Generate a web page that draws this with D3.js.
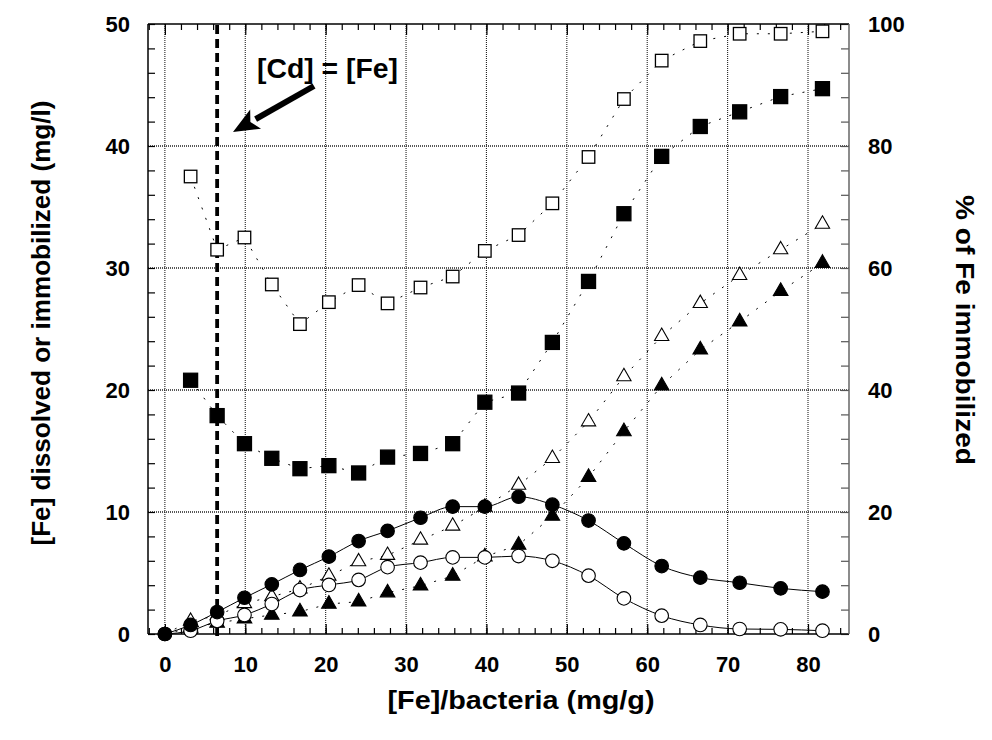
<!DOCTYPE html>
<html><head><meta charset="utf-8">
<script src="https://cdn.jsdelivr.net/npm/d3@7"></script>
<style>body{margin:0;background:#fff}text{font-family:"Liberation Sans",Arial,sans-serif;font-weight:bold}</style>
</head><body><svg id="c" width="992" height="740"></svg>
<script>
// ---- data ----
const xVals = [0, 3.2, 6.5, 9.9, 13.3, 16.8, 20.4, 24.1, 27.7, 31.8, 35.8, 39.8, 44.0, 48.2, 52.7, 57.1, 61.8, 66.6, 71.5, 76.6, 81.8];
// mg/l (left axis)
const filledCircles = [0, 0.74, 1.8, 2.97, 4.07, 5.25, 6.34, 7.62, 8.45, 9.53, 10.44, 10.44, 11.25, 10.6, 9.3, 7.43, 5.57, 4.62, 4.2, 3.74, 3.47];
const openCircles   = [0, 0.27, 1.07, 1.56, 2.46, 3.6, 4.02, 4.43, 5.48, 5.85, 6.28, 6.28, 6.39, 6.0, 4.78, 2.92, 1.5, 0.74, 0.41, 0.38, 0.27];
const openTriangles = [0, 1.05, 1.5, 2.5, 3.06, 3.7, 4.75, 5.93, 6.45, 7.7, 8.85, 10.4, 12.2, 14.4, 17.4, 21.1, 24.4, 27.1, 29.4, 31.5, 33.6];
const filledTriangles = [0, 0.5, 0.9, 1.25, 1.56, 1.83, 2.46, 2.65, 3.39, 3.96, 4.75, 6.34, 7.3, 9.67, 12.85, 16.6, 20.35, 23.3, 25.6, 28.1, 30.4];
// % of Fe immobilized (right axis), starting at xVals[1]
const openSquares   = [75.0, 63.0, 65.0, 57.3, 50.8, 54.4, 57.2, 54.2, 56.8, 58.6, 62.8, 65.4, 70.6, 78.2, 87.7, 94.0, 97.2, 98.4, 98.4, 98.8];
const filledSquares = [41.6, 35.8, 31.2, 28.8, 27.1, 27.6, 26.4, 29.0, 29.6, 31.2, 38.0, 39.5, 47.8, 57.8, 68.9, 78.3, 83.2, 85.6, 88.1, 89.4];
const xTicks = [0, 10, 20, 30, 40, 50, 60, 70, 80];
const yTicks = [0, 10, 20, 30, 40, 50];
const y2Ticks = [0, 20, 40, 60, 80, 100];
const cdEqualsFe = 6.5;
const annotation = "[Cd] = [Fe]";

// ---- layout ----
const svg = d3.select("#c");
const L = 148, R = 849, T = 24, B = 634;
const x = d3.scaleLinear().domain([-2.1, 85.1]).range([L, R]);
const y = d3.scaleLinear().domain([0, 50]).range([B, T]);
const y2 = d3.scaleLinear().domain([0, 100]).range([B, T]);

// grid
const g = svg.append("g");
xTicks.forEach(v => g.append("line").attr("x1", x(v)).attr("x2", x(v)).attr("y1", T).attr("y2", B)
  .attr("stroke", "#222").attr("stroke-width", 1.1).attr("stroke-dasharray", "1,1"));
yTicks.filter(v => v > 0 && v < 50).forEach(v => g.append("line").attr("x1", L).attr("x2", R).attr("y1", y(v)).attr("y2", y(v))
  .attr("stroke", "#222").attr("stroke-width", 1.6).attr("stroke-dasharray", "1,1"));

// axes (ticks inward)
const minorX = d3.range(-2, 85, 2);
const axB = svg.append("g").attr("transform", `translate(0,${B})`)
  .call(d3.axisBottom(x).tickValues(minorX).tickSize(-6).tickFormat(""));
const axBM = svg.append("g").attr("transform", `translate(0,${B})`)
  .call(d3.axisBottom(x).tickValues(xTicks).tickSize(-10).tickPadding(22).tickFormat(d3.format("d")));
const axT = svg.append("g").attr("transform", `translate(0,${T})`)
  .call(d3.axisTop(x).tickValues(minorX).tickSize(-6).tickFormat(""));
const axTM = svg.append("g").attr("transform", `translate(0,${T})`)
  .call(d3.axisTop(x).tickValues(xTicks).tickSize(-11).tickFormat(""));
const axL = svg.append("g").attr("transform", `translate(${L},0)`)
  .call(d3.axisLeft(y).tickValues(d3.range(0, 51, 2)).tickSize(-7).tickFormat(""));
const axLM = svg.append("g").attr("transform", `translate(${L},0)`)
  .call(d3.axisLeft(y).tickValues(yTicks).tickSize(0).tickPadding(18).tickFormat(d3.format("d")));
const axR = svg.append("g").attr("transform", `translate(${R},0)`)
  .call(d3.axisRight(y2).tickValues(d3.range(0, 101, 4)).tickSize(-8).tickFormat(""));
const axRM = svg.append("g").attr("transform", `translate(${R},0)`)
  .call(d3.axisRight(y2).tickValues(y2Ticks).tickSize(0).tickPadding(19).tickFormat(d3.format("d")));
[axB, axBM, axT, axTM, axL, axLM, axR, axRM].forEach(a => {
  a.selectAll(".domain").remove();
  a.selectAll("line").attr("stroke", "#000").attr("stroke-width", 1.2);
  a.selectAll("text").style("font-size", "22px").style("font-family", "Liberation Sans, Arial").style("font-weight", "bold").attr("fill", "#000");
});
axR.selectAll("line").attr("stroke", "#555");
// frame
svg.append("line").attr("x1", L).attr("x2", R).attr("y1", T).attr("y2", T).attr("stroke", "#000").attr("stroke-width", 1.5);
svg.append("line").attr("x1", L).attr("x2", R).attr("y1", B).attr("y2", B).attr("stroke", "#000").attr("stroke-width", 1.5);
svg.append("line").attr("x1", L).attr("x2", L).attr("y1", T).attr("y2", B).attr("stroke", "#000").attr("stroke-width", 1.5);
svg.append("line").attr("x1", R).attr("x2", R).attr("y1", T).attr("y2", B).attr("stroke", "#666").attr("stroke-width", 1.5);

// Cd = Fe dashed line
svg.append("line").attr("x1", x(cdEqualsFe)).attr("x2", x(cdEqualsFe)).attr("y1", T + 1).attr("y2", B + 6)
  .attr("stroke", "#000").attr("stroke-width", 3.8).attr("stroke-dasharray", "9,5");

// series helpers
function series(xs, ys, yScale, dotted, curve) {
  const pts = xs.map((v, i) => [x(v), yScale(ys[i])]);
  const line = d3.line().curve(curve || d3.curveLinear);
  svg.append("path").attr("d", line(pts)).attr("fill", "none").attr("stroke", "#000")
    .attr("stroke-width", 1).attr("stroke-dasharray", dotted ? "2,9" : null);
  return pts;
}
function squares(pts, filled) {
  const s = filled ? 14 : 12.5;
  svg.append("g").selectAll("rect").data(pts).join("rect")
    .attr("x", d => d[0] - s / 2).attr("y", d => d[1] - s / 2).attr("width", s).attr("height", s)
    .attr("fill", filled ? "#000" : "#fff").attr("stroke", "#000").attr("stroke-width", 1.3);
}
function circles(pts, filled) {
  svg.append("g").selectAll("circle").data(pts).join("circle")
    .attr("cx", d => d[0]).attr("cy", d => d[1]).attr("r", 6.8)
    .attr("fill", filled ? "#000" : "#fff").attr("stroke", "#000").attr("stroke-width", 1.1);
}
function triangles(pts, filled) {
  const sym = d3.symbol().type(d3.symbolTriangle).size(filled ? 92 : 88);
  svg.append("g").selectAll("path").data(pts).join("path")
    .attr("transform", d => `translate(${d[0]},${d[1]})`).attr("d", sym())
    .attr("fill", filled ? "#000" : "#fff").attr("stroke", "#000").attr("stroke-width", 1.1);
}

const xs1 = xVals.slice(1);
const pOS = series(xs1, openSquares, y2, true);
const pFS = series(xs1, filledSquares, y2, true);
const pOT = series(xVals, openTriangles, y, true);
const pFT = series(xVals, filledTriangles, y, true);
const pOC = series(xVals, openCircles, y, false, d3.curveMonotoneX);
const pFC = series(xVals, filledCircles, y, false, d3.curveMonotoneX);
squares(pOS, false);
squares(pFS, true);
triangles(pOT.slice(1), false);
triangles(pFT.slice(1), true);
circles(pOC, false);
circles(pFC, true);

// annotation
svg.append("text").attr("x", 257).attr("y", 78).style("font-size", "27px")
  .attr("textLength", 141).attr("lengthAdjust", "spacingAndGlyphs").text(annotation);
const tail = [314, 86], tip = [233, 132];
const ang = Math.atan2(tip[1] - tail[1], tip[0] - tail[0]);
const hl = 26, hw = 11;
const base = [tip[0] - hl * Math.cos(ang), tip[1] - hl * Math.sin(ang)];
svg.append("line").attr("x1", tail[0]).attr("y1", tail[1]).attr("x2", base[0]).attr("y2", base[1])
  .attr("stroke", "#000").attr("stroke-width", 6);
svg.append("path").attr("d", d3.line()([
  tip,
  [base[0] + hw * Math.sin(ang), base[1] - hw * Math.cos(ang)],
  [base[0] + 6 * Math.cos(ang), base[1] + 6 * Math.sin(ang)],
  [base[0] - hw * Math.sin(ang), base[1] + hw * Math.cos(ang)]
]) + "Z").attr("fill", "#000");

// axis titles
svg.append("text").attr("transform", `translate(50,323) rotate(-90)`).attr("text-anchor", "middle")
  .style("font-size", "25px").attr("textLength", 445).attr("lengthAdjust", "spacingAndGlyphs")
  .text("[Fe] dissolved or immobilized (mg/l)");
svg.append("text").attr("transform", `translate(956,330) rotate(90)`).attr("text-anchor", "middle")
  .style("font-size", "25px").attr("textLength", 270).attr("lengthAdjust", "spacingAndGlyphs")
  .text("% of Fe immobilized");
svg.append("text").attr("x", 521).attr("y", 709).attr("text-anchor", "middle")
  .style("font-size", "25px").attr("textLength", 267).attr("lengthAdjust", "spacingAndGlyphs")
  .text("[Fe]/bacteria (mg/g)");
</script></body></html>
